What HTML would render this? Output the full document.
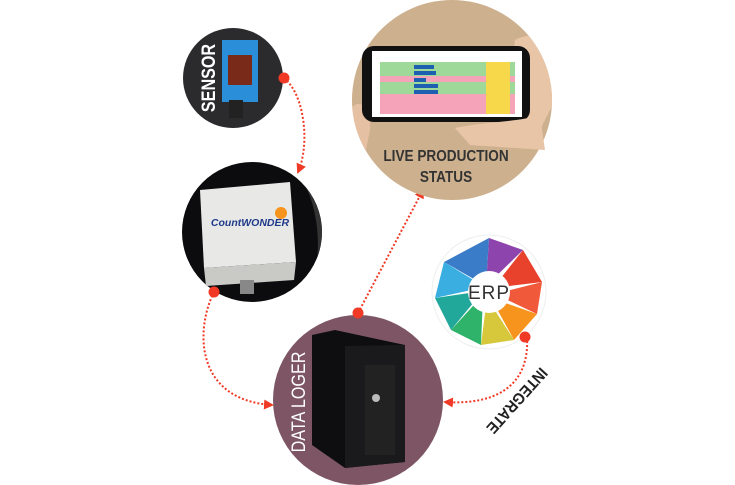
<!DOCTYPE html>
<html><head><meta charset="utf-8"><style>
body{margin:0;background:#fff;}
svg{display:block;font-family:"Liberation Sans",sans-serif;}
</style></head><body>
<svg width="735" height="485" viewBox="0 0 735 485" xmlns="http://www.w3.org/2000/svg">
<defs>
<marker id="ar" viewBox="0 0 10 10" refX="8" refY="5" markerWidth="5" markerHeight="5" orient="auto"><path d="M0,0 L10,5 L0,10 z" fill="#f03a25"/></marker>
<clipPath id="cl"><circle cx="452" cy="100" r="100"/></clipPath>
<clipPath id="cc"><circle cx="252" cy="232" r="70"/></clipPath>
</defs>

<g fill="none" stroke="#f03a25" stroke-width="2" stroke-dasharray="2,2">
<path d="M284,78 C305,95 310,145 298,172" marker-end="url(#ar)"/>
<path d="M214,292 C195,330 195,400 272,405" marker-end="url(#ar)"/>
<path d="M358,313 L423,190" marker-end="url(#ar)"/>
<path d="M527,337 C530,390 490,405 445,402" marker-end="url(#ar)"/>
</g>

<circle cx="233" cy="78" r="50" fill="#2b2b2d"/>
<text transform="translate(215,78) rotate(-90) scale(0.85,1)" text-anchor="middle" font-size="19" font-weight="bold" fill="#fff">SENSOR</text>
<rect x="222" y="40" width="36" height="62" fill="#2a8ed8"/>
<rect x="228" y="55" width="24" height="30" fill="#7a2a18"/>
<rect x="229" y="100" width="14" height="18" fill="#222"/>

<circle cx="452" cy="100" r="100" fill="#cdb08d"/>
<g clip-path="url(#cl)">
<path d="M515,40 C545,25 560,50 555,100 L540,130 L505,115 Z" fill="#e9c5a8"/>
<path d="M350,110 C360,95 372,110 370,130 L362,170 L345,165 Z" fill="#e6c0a2"/>
</g>
<rect x="362" y="46" width="168" height="76" rx="12" fill="#111"/>
<rect x="372" y="51" width="150" height="66" fill="#fff"/>
<rect x="380" y="62" width="135" height="14" fill="#9fd99a"/>
<rect x="380" y="76" width="135" height="6" fill="#f4a3b8"/>
<rect x="380" y="82" width="135" height="12" fill="#9fd99a"/>
<rect x="380" y="94" width="135" height="20" fill="#f4a3b8"/>
<rect x="486" y="62" width="24" height="52" fill="#f7d84a"/>
<rect x="414" y="65" width="20" height="4" fill="#1d5fb0"/><rect x="414" y="71" width="22" height="4" fill="#1d5fb0"/>
<rect x="414" y="78" width="12" height="4" fill="#1d5fb0"/><rect x="414" y="84" width="24" height="4" fill="#1d5fb0"/><rect x="414" y="90" width="24" height="4" fill="#1d5fb0"/>
<path d="M455,128 C480,122 520,122 540,115 L545,150 L470,145 Z" fill="#e9c5a8"/>
<g transform="translate(446,0) scale(0.85,1)">
<text x="0" y="161" text-anchor="middle" font-size="16" font-weight="bold" fill="#333">LIVE PRODUCTION</text>
<text x="0" y="182" text-anchor="middle" font-size="16" font-weight="bold" fill="#333">STATUS</text>
</g>

<circle cx="252" cy="232" r="70" fill="#0c0c0e"/>
<g clip-path="url(#cc)">
<path d="M300,170 C320,200 330,250 310,300" stroke="#333" stroke-width="6" fill="none"/>
</g>
<path d="M200,190 L290,182 L296,262 L204,268 Z" fill="#e8e8e6"/>
<path d="M204,268 L296,262 L294,280 L206,286 Z" fill="#c9c9c6"/>
<rect x="240" y="280" width="14" height="14" fill="#888"/>
<text x="250" y="226" text-anchor="middle" font-size="10.5" font-weight="bold" font-style="italic" fill="#1f3a8a">CountWONDER</text>
<circle cx="281" cy="213" r="6" fill="#f7941d"/>

<circle cx="358" cy="400" r="85" fill="#7d5564"/>
<text transform="translate(305,402) rotate(-90) scale(0.85,1)" text-anchor="middle" font-size="19" fill="#fff">DATA LOGER</text>
<path d="M312,335 L335,330 L405,345 L405,462 L345,468 L312,445 Z" fill="#0e0e10"/>
<path d="M345,346 L405,345 L405,462 L345,468 Z" fill="#1a1a1c"/>
<rect x="365" y="365" width="30" height="90" fill="#222"/>
<circle cx="376" cy="398" r="4" fill="#bbb"/>

<g transform="translate(489,292)">
<circle r="57" fill="#fff" stroke="#eee"/>
<polygon points="0,-54 34,-42 -3,-6" fill="#8e44ad"/>
<polygon points="34,-42 53,-10 4,-4" fill="#e8412c"/>
<polygon points="53,-10 48,22 6,2" fill="#f05a3a"/>
<polygon points="48,22 25,48 2,6" fill="#f7941d"/>
<polygon points="25,48 -8,53 -2,6" fill="#d6c83a"/>
<polygon points="-8,53 -38,38 -6,3" fill="#2fb36b"/>
<polygon points="-38,38 -54,6 -6,-1" fill="#21a89a"/>
<polygon points="-54,6 -45,-30 -4,-5" fill="#3aaee0"/>
<polygon points="-45,-30 0,-54 -3,-6" fill="#3b7cc8"/>
<circle r="21" fill="#fff"/>
<text y="7" text-anchor="middle" font-size="19" fill="#333" letter-spacing="1">ERP</text>
</g>
<circle cx="525" cy="337" r="5.5" fill="#f03a25"/>
<text transform="translate(513,397) rotate(132) scale(0.9,1)" text-anchor="middle" font-size="16" font-weight="bold" fill="#222">INTEGRATE</text>

<circle cx="284" cy="78" r="5.5" fill="#f03a25"/>
<circle cx="214" cy="292" r="5.5" fill="#f03a25"/>
<circle cx="358" cy="313" r="5.5" fill="#f03a25"/>
</svg>
</body></html>
